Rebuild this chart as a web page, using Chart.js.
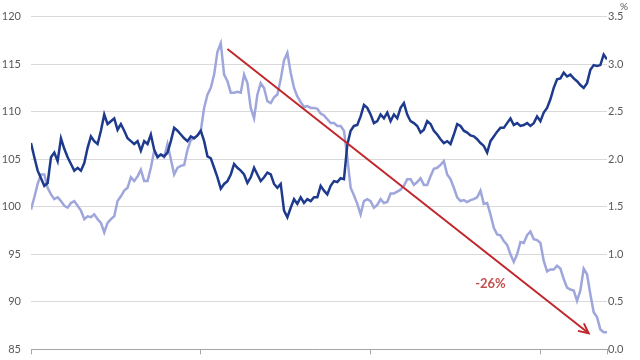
<!DOCTYPE html>
<html>
<head>
<meta charset="utf-8">
<script src="https://cdn.jsdelivr.net/npm/chart.js@4"></script>
<style>
  html, body { margin: 0; padding: 0; background: #fff; overflow: hidden; }
  #wrap { width: 640px; height: 366px; }
</style>
</head>
<body>
<div id="wrap"><canvas id="chart"></canvas></div>
<script>
// index (trading days), left axis index level, right axis yield in %
const indexLevel = [
  99.7, 101.0, 102.4, 103.4, 103.4, 102.0, 101.3, 100.8, 101.0, 100.6,
  100.1, 99.9, 100.4, 100.6, 100.1, 99.6, 98.7, 99.0, 98.9, 99.2,
  98.7, 98.3, 97.3, 98.3, 98.7, 99.0, 100.6, 101.1, 101.7, 102.0,
  103.1, 102.7, 103.2, 103.9, 102.7, 102.7, 104.1, 105.9, 105.3, 105.5,
  105.2, 106.6, 105.0, 103.4, 104.1, 104.3, 104.4, 106.0, 107.0, 107.2,
  107.5, 108.0, 110.4, 111.8, 112.5, 113.9, 116.3, 117.2, 113.9, 113.2,
  112.0, 112.0, 112.1, 112.0, 113.9, 113.0, 110.4, 109.3, 111.8, 113.0,
  112.5, 111.1, 110.9, 111.5, 111.8, 113.4, 115.4, 116.2, 114.1, 112.5,
  111.6, 111.0, 110.5, 110.6, 110.4, 110.4, 110.3, 109.8, 109.6, 109.2,
  108.8, 108.8, 108.5, 108.5, 108.0, 105.2, 102.0, 101.2, 100.3, 99.2,
  100.6, 100.8, 100.6, 99.9, 100.2, 100.8, 100.4, 100.5, 101.4, 101.4,
  101.6, 101.8, 102.2, 102.9, 102.9, 102.3, 102.6, 103.0, 102.3, 102.3,
  103.2, 104.0, 104.1, 104.4, 104.8, 103.4, 102.9, 102.0, 101.0, 100.6,
  100.7, 100.5, 100.7, 100.8, 101.0, 101.7, 100.3, 100.4, 99.2, 97.8,
  97.1, 97.0, 96.4, 96.0, 95.0, 94.2, 95.0, 96.3, 96.2, 97.0,
  97.4, 96.6, 96.5, 96.2, 94.3, 93.2, 93.4, 93.4, 93.8, 93.5,
  92.4, 91.5, 91.3, 91.2, 90.1, 91.2, 93.5, 92.9, 90.8, 88.9,
  88.4, 87.1, 86.8, 86.8
];

const yieldPct = [
  2.17, 2.02, 1.88, 1.80, 1.72, 1.75, 2.02, 2.07, 1.98, 2.22,
  2.11, 2.02, 1.95, 1.88, 1.91, 1.88, 1.96, 2.12, 2.24, 2.19,
  2.16, 2.30, 2.47, 2.37, 2.40, 2.43, 2.31, 2.37, 2.30, 2.22,
  2.19, 2.16, 2.19, 2.09, 2.19, 2.16, 2.26, 2.10, 2.02, 2.05,
  2.03, 2.07, 2.19, 2.33, 2.30, 2.26, 2.22, 2.19, 2.24, 2.22,
  2.25, 2.30, 2.19, 2.03, 2.01, 1.91, 1.81, 1.69, 1.74, 1.77,
  1.84, 1.95, 1.91, 1.88, 1.84, 1.75, 1.81, 1.91, 1.84, 1.77,
  1.81, 1.86, 1.84, 1.74, 1.70, 1.74, 1.46, 1.39, 1.49, 1.58,
  1.53, 1.60, 1.54, 1.58, 1.56, 1.60, 1.60, 1.72, 1.67, 1.63,
  1.72, 1.77, 1.76, 1.80, 1.79, 2.15, 2.30, 2.35, 2.36, 2.45,
  2.57, 2.54, 2.47, 2.38, 2.40, 2.47, 2.43, 2.49, 2.40, 2.47,
  2.43, 2.54, 2.59, 2.47, 2.40, 2.38, 2.35, 2.28, 2.31, 2.40,
  2.37, 2.30, 2.26, 2.21, 2.17, 2.19, 2.16, 2.26, 2.37, 2.35,
  2.30, 2.28, 2.25, 2.24, 2.21, 2.17, 2.14, 2.07, 2.19, 2.24,
  2.29, 2.33, 2.33, 2.38, 2.43, 2.36, 2.38, 2.35, 2.36, 2.38,
  2.35, 2.38, 2.45, 2.40, 2.49, 2.54, 2.63, 2.75, 2.84, 2.85,
  2.91, 2.87, 2.89, 2.85, 2.82, 2.78, 2.75, 2.80, 2.94, 2.99,
  2.98, 2.99, 3.10, 3.05
];

// left axis 85..120 step 5, right axis 0..3.5 step 0.5
const leftTicks = [85, 120, 5];
const rightTicks = [0, 3.5, 0.5];
const xTickStep = 51;

// drawdown arrow in data units [day, index level]
const arrowFrom = [59, 116.6];
const arrowTo = [167.5, 86.7];
const arrowLabel = '-26%';
const arrowLabelAt = [138, 91.9];

const FONT = 'Lato, "Open Sans", "Liberation Sans", sans-serif';
const toPoints = arr => arr.map((v, i) => ({ x: i, y: v }));

const annotate = {
  id: 'annotate',
  afterDatasetsDraw(chart) {
    const { ctx, scales: { x, y, y1 } } = chart;
    const x0 = x.getPixelForValue(arrowFrom[0]), y0 = y.getPixelForValue(arrowFrom[1]);
    const x1 = x.getPixelForValue(arrowTo[0]), y2 = y.getPixelForValue(arrowTo[1]);
    const ang = Math.atan2(y2 - y0, x1 - x0);
    ctx.save();
    ctx.strokeStyle = '#c0262b';
    ctx.lineWidth = 2;
    ctx.beginPath();
    ctx.moveTo(x0, y0);
    ctx.lineTo(x1 - 2 * Math.cos(ang), y2 - 2 * Math.sin(ang));
    ctx.stroke();
    // open arrow head
    ctx.beginPath();
    ctx.moveTo(x1 - 11 * Math.cos(ang - 0.45), y2 - 11 * Math.sin(ang - 0.45));
    ctx.lineTo(x1, y2);
    ctx.lineTo(x1 - 11 * Math.cos(ang + 0.45), y2 - 11 * Math.sin(ang + 0.45));
    ctx.stroke();

    ctx.fillStyle = '#c0504d';
    ctx.font = 'bold 13px ' + FONT;
    ctx.textAlign = 'center';
    ctx.textBaseline = 'middle';
    ctx.fillText(arrowLabel, x.getPixelForValue(arrowLabelAt[0]), y.getPixelForValue(arrowLabelAt[1]));

    // unit above right axis
    ctx.fillStyle = '#595959';
    ctx.font = '10px ' + FONT;
    ctx.fillText('%', y1.left + 17, chart.chartArea.top - 10);
    ctx.restore();
  }
};

const ctx = document.getElementById('chart').getContext('2d');
new Chart(ctx, {
  type: 'line',
  data: {
    datasets: [
      {
        label: 'Yield',
        data: toPoints(yieldPct),
        yAxisID: 'y1',
        borderColor: '#1e3a8c',
        borderWidth: 2.5,
        pointRadius: 0,
        tension: 0
      },
      {
        label: 'Index',
        data: toPoints(indexLevel),
        yAxisID: 'y',
        borderColor: '#9ea6dc',
        borderWidth: 2.5,
        pointRadius: 0,
        tension: 0
      }
    ]
  },
  options: {
    responsive: true,
    maintainAspectRatio: false,
    animation: false,
    layout: { padding: { top: 12, left: 2, right: 15, bottom: 4 } },
    plugins: {
      legend: { display: false },
      tooltip: { enabled: false }
    },
    scales: {
      x: {
        type: 'linear',
        min: 0,
        max: indexLevel.length - 1,
        border: { color: '#a6a6a6', width: 1 },
        grid: { drawOnChartArea: false, tickLength: 5, color: '#a6a6a6' },
        ticks: { display: false, stepSize: xTickStep }
      },
      y: {
        position: 'left',
        min: leftTicks[0],
        max: leftTicks[1],
        border: { display: false },
        grid: { color: '#d9d9d9', drawTicks: false },
        afterFit: s => { s.width = 29; },
        ticks: {
          stepSize: leftTicks[2],
          padding: 10,
          color: '#595959',
          font: { family: FONT, size: 11 }
        }
      },
      y1: {
        position: 'right',
        min: rightTicks[0],
        max: rightTicks[1],
        border: { display: false },
        grid: { drawOnChartArea: false, drawTicks: false },
        afterFit: s => { s.width = 18; },
        ticks: {
          stepSize: rightTicks[2],
          padding: 1,
          color: '#595959',
          font: { family: FONT, size: 11 },
          callback: v => v.toFixed(1)
        }
      }
    }
  },
  plugins: [annotate]
});
</script>
</body>
</html>
